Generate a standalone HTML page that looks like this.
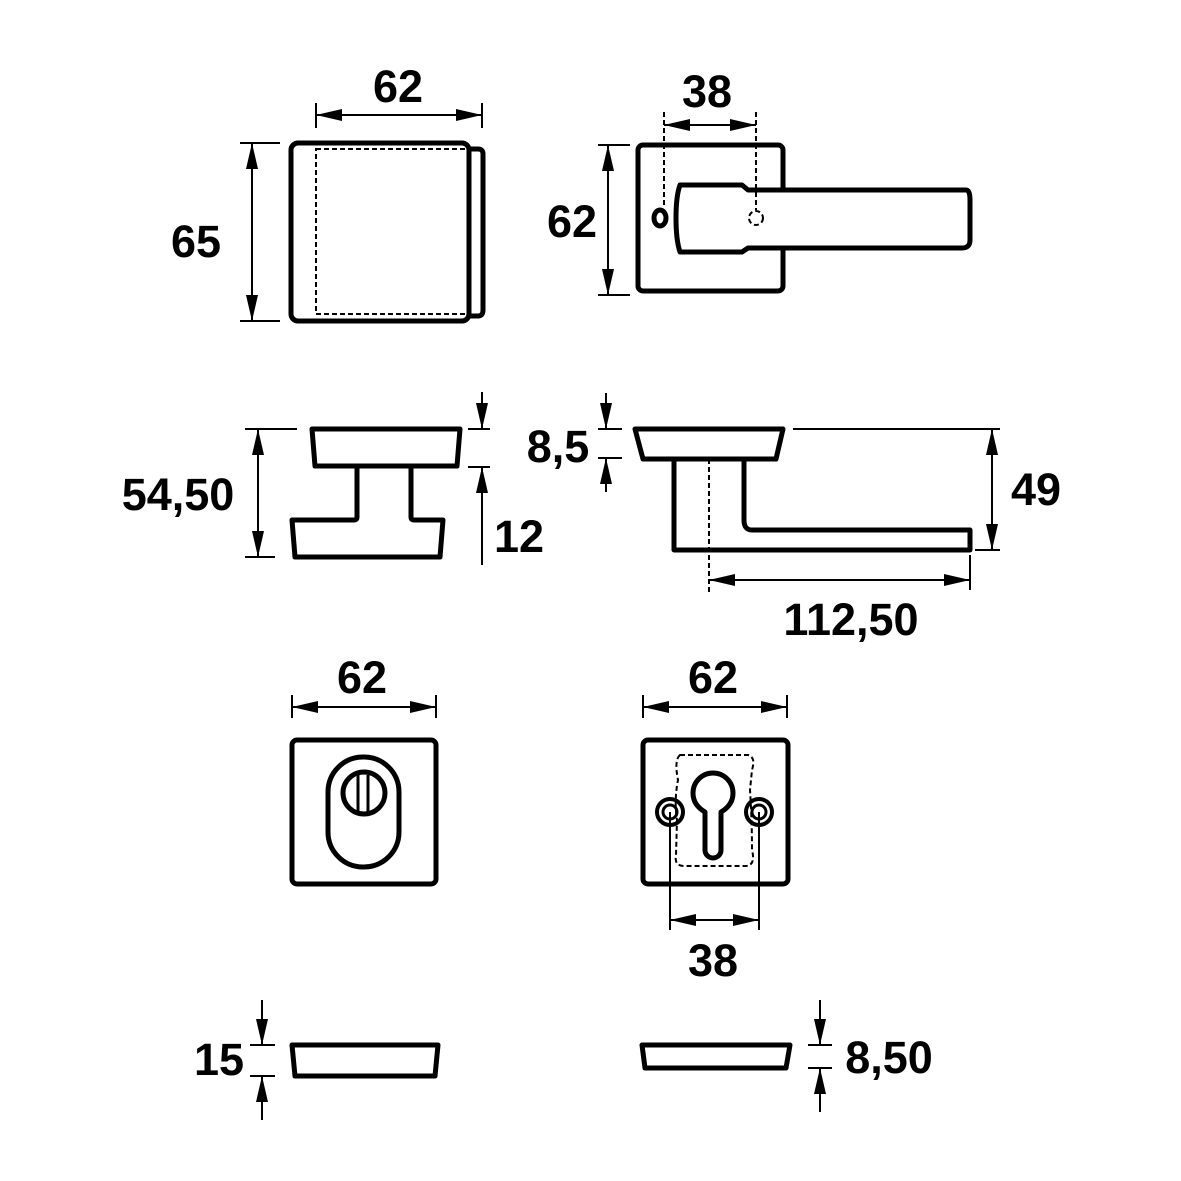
<!DOCTYPE html><html><head><style>body{margin:0;background:#fff}svg{display:block}text{font-family:"Liberation Sans",sans-serif;font-weight:bold;font-size:45px;text-anchor:middle}</style></head><body>
<svg width="1181" height="1181" viewBox="0 0 1181 1181" xmlns="http://www.w3.org/2000/svg">
<defs><marker id="a" viewBox="0 0 26 12" refX="26" refY="6" markerWidth="26" markerHeight="12" orient="auto-start-reverse" markerUnits="userSpaceOnUse"><path d="M0,0L26,6L0,12z" fill="#000"/></marker></defs>
<g fill="none" stroke="#000" stroke-width="5" stroke-linejoin="round">
<rect x="291" y="143" width="178" height="178" rx="7"/>
<path d="M469,149H478Q483,149 483,154V310Q483,316 478,316H469"/>
<rect x="638" y="145" width="145" height="146" rx="5"/>
<path fill="#fff" d="M680,185H742L748,190H966Q970,190 970,200V240Q970,248 962,248H748L742,252H680Q676,240 676,218Q676,196 680,185Z"/>
<ellipse cx="660" cy="218" rx="6" ry="8" fill="#fff"/>
<path d="M312,429H460L457,466H315Z"/>
<path d="M357,466V517Q357,520 354,520H292L295,557H440L443,520H414Q411,520 411,517V466"/>
<path d="M635,429H783L776,459H643Z"/>
<path d="M674,459V550H970V530H752Q744,530 744,520V459"/>
<rect x="292" y="740" width="144" height="144" rx="5"/>
<rect x="328" y="757" width="71" height="110" rx="35"/>
<circle cx="364" cy="793" r="21"/>
<rect x="643" y="740" width="145" height="144" rx="5"/>
<path d="M705,850V812Q693,805 693,793A20,20 0 1 1 733,793Q733,805 721,812V850A8,8 0 0 1 705,850Z"/>
<circle cx="670" cy="812" r="13" stroke-width="4"/><circle cx="670" cy="812" r="7" stroke-width="3"/>
<circle cx="759" cy="812" r="13" stroke-width="4"/><circle cx="759" cy="812" r="7" stroke-width="3"/>
<path d="M292,1045H438L435,1076H295Z"/>
<path d="M642,1045H790L786,1068H645Z"/>
</g>
<g stroke="#000" stroke-width="3"><line x1="358" y1="775" x2="358" y2="815"/><line x1="368" y1="775" x2="368" y2="815"/></g>
<g fill="none" stroke="#000" stroke-width="2" stroke-dasharray="5,3">
<line x1="664" y1="112" x2="664" y2="208"/><line x1="756" y1="112" x2="756" y2="210"/>
<rect x="316" y="149" width="152" height="165"/>
<circle cx="756" cy="218" r="7"/>
<line x1="709" y1="459" x2="709" y2="592"/>
<path d="M680,755H748Q756,757 752,770L750,790Q752,820 752,850Q756,866 745,866H684Q674,866 676,855L677,820Q674,800 678,780Q674,760 680,755Z"/>
</g>
<g stroke="#000" stroke-width="2" fill="none">
<line x1="316" y1="103" x2="316" y2="128"/><line x1="482" y1="103" x2="482" y2="128"/>
<line x1="316" y1="115" x2="482" y2="115" marker-start="url(#a)" marker-end="url(#a)"/>
<line x1="240" y1="143" x2="280" y2="143"/><line x1="240" y1="321" x2="280" y2="321"/>
<line x1="252" y1="143" x2="252" y2="321" marker-start="url(#a)" marker-end="url(#a)"/>
<line x1="664" y1="125" x2="756" y2="125" marker-start="url(#a)" marker-end="url(#a)"/>
<line x1="598" y1="145" x2="630" y2="145"/><line x1="598" y1="295" x2="630" y2="295"/>
<line x1="608" y1="145" x2="608" y2="295" marker-start="url(#a)" marker-end="url(#a)"/>
<line x1="245" y1="429" x2="297" y2="429"/><line x1="245" y1="557" x2="275" y2="557"/>
<line x1="258" y1="429" x2="258" y2="557" marker-start="url(#a)" marker-end="url(#a)"/>
<line x1="468" y1="429" x2="490" y2="429"/><line x1="468" y1="467" x2="490" y2="467"/>
<line x1="482" y1="392" x2="482" y2="429" marker-end="url(#a)"/>
<line x1="482" y1="565" x2="482" y2="467" marker-end="url(#a)"/>
<line x1="598" y1="429" x2="622" y2="429"/><line x1="598" y1="458" x2="622" y2="458"/>
<line x1="606" y1="393" x2="606" y2="429" marker-end="url(#a)"/>
<line x1="606" y1="492" x2="606" y2="458" marker-end="url(#a)"/>
<line x1="793" y1="429" x2="1000" y2="429"/><line x1="975" y1="550" x2="1000" y2="550"/>
<line x1="992" y1="429" x2="992" y2="550" marker-start="url(#a)" marker-end="url(#a)"/>
<line x1="970" y1="555" x2="970" y2="590"/>
<line x1="709" y1="580" x2="970" y2="580" marker-start="url(#a)" marker-end="url(#a)"/>
<line x1="292" y1="695" x2="292" y2="718"/><line x1="436" y1="695" x2="436" y2="718"/>
<line x1="292" y1="707" x2="436" y2="707" marker-start="url(#a)" marker-end="url(#a)"/>
<line x1="643" y1="695" x2="643" y2="718"/><line x1="787" y1="695" x2="787" y2="718"/>
<line x1="643" y1="707" x2="787" y2="707" marker-start="url(#a)" marker-end="url(#a)"/>
<line x1="670" y1="812" x2="670" y2="930"/><line x1="759" y1="812" x2="759" y2="930"/>
<line x1="670" y1="920" x2="759" y2="920" marker-start="url(#a)" marker-end="url(#a)"/>
<line x1="250" y1="1045" x2="275" y2="1045"/><line x1="250" y1="1076" x2="275" y2="1076"/>
<line x1="262" y1="1000" x2="262" y2="1045" marker-end="url(#a)"/>
<line x1="262" y1="1120" x2="262" y2="1076" marker-end="url(#a)"/>
<line x1="808" y1="1045" x2="832" y2="1045"/><line x1="808" y1="1068" x2="832" y2="1068"/>
<line x1="820" y1="1000" x2="820" y2="1045" marker-end="url(#a)"/>
<line x1="820" y1="1112" x2="820" y2="1068" marker-end="url(#a)"/>
</g>
<text x="398" y="102">62</text>
<text x="196" y="257">65</text>
<text x="707" y="107">38</text>
<text x="572" y="237">62</text>
<text x="178" y="510">54,50</text>
<text x="519" y="552">12</text>
<text x="558" y="462">8,5</text>
<text x="1036" y="505">49</text>
<text x="851" y="635">112,50</text>
<text x="362" y="693">62</text>
<text x="713" y="693">62</text>
<text x="713" y="976">38</text>
<text x="219" y="1075">15</text>
<text x="889" y="1073">8,50</text>
</svg></body></html>
